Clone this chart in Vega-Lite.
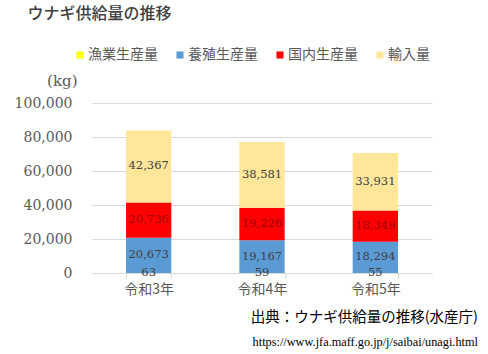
{
  "$schema": "https://vega.github.io/schema/vega-lite/v6.json",
  "width": 340,
  "height": 170,
  "autosize": {"type": "none"},
  "padding": {"left": 92, "top": 103, "right": 56, "bottom": 81},
  "background": "white",
  "title": {
    "text": "出典：ウナギ供給量の推移(水産庁)",
    "subtitle": "https://www.jfa.maff.go.jp/j/saibai/unagi.html",
    "orient": "bottom",
    "anchor": "end",
    "frame": "group",
    "dx": 46,
    "offset": 15,
    "font": "Noto Sans CJK JP",
    "fontSize": 14.5,
    "fontWeight": "normal",
    "color": "#000000",
    "subtitleFont": "Liberation Serif",
    "subtitleFontSize": 12.3,
    "subtitleColor": "#000000",
    "subtitlePadding": 10
  },
  "data": {
    "values": [
      {"年": "令和3年", "系列": "漁業生産量", "順": 1, "量": 63},
      {"年": "令和3年", "系列": "養殖生産量", "順": 2, "量": 20673},
      {"年": "令和3年", "系列": "国内生産量", "順": 3, "量": 20736},
      {"年": "令和3年", "系列": "輸入量", "順": 4, "量": 42367},
      {"年": "令和4年", "系列": "漁業生産量", "順": 1, "量": 59},
      {"年": "令和4年", "系列": "養殖生産量", "順": 2, "量": 19167},
      {"年": "令和4年", "系列": "国内生産量", "順": 3, "量": 19226},
      {"年": "令和4年", "系列": "輸入量", "順": 4, "量": 38581},
      {"年": "令和5年", "系列": "漁業生産量", "順": 1, "量": 55},
      {"年": "令和5年", "系列": "養殖生産量", "順": 2, "量": 18294},
      {"年": "令和5年", "系列": "国内生産量", "順": 3, "量": 18349},
      {"年": "令和5年", "系列": "輸入量", "順": 4, "量": 33931}
    ]
  },
  "encoding": {
    "x": {
      "field": "年",
      "type": "nominal",
      "scale": {"paddingInner": 0.6, "paddingOuter": 0.3},
      "axis": {
        "labelAngle": 0,
        "title": "ウナギ供給量の推移",
        "titleX": -65,
        "titleY": -260,
        "titleAlign": "left",
        "titleBaseline": "middle",
        "titleFont": "Noto Sans CJK JP",
        "titleFontSize": 16,
        "titleFontWeight": 500,
        "titleColor": "#404040",
        "labelFont": "Noto Sans CJK JP",
        "labelFontSize": 14,
        "labelColor": "#595959",
        "domainColor": "#d9d9d9",
        "tickColor": "#d9d9d9",
        "tickBand": "extent",
        "tickSize": 5,
        "labelPadding": 4
      }
    },
    "order": {"field": "順", "type": "quantitative", "sort": "ascending"}
  },
  "layer": [
    {
      "mark": {"type": "bar"},
      "encoding": {
        "y": {
          "field": "量",
          "type": "quantitative",
          "stack": "zero",
          "scale": {"domain": [0, 100000]},
          "axis": {
            "title": "(kg)",
            "titleAngle": 0,
            "titleX": -15,
            "titleY": -23,
            "titleAlign": "right",
            "titleBaseline": "middle",
            "titleFont": "DejaVu Serif",
            "titleFontSize": 15,
            "titleFontWeight": "normal",
            "titleColor": "#595959",
            "values": [0, 20000, 40000, 60000, 80000, 100000],
            "format": ",.0f",
            "labelFont": "DejaVu Serif",
            "labelFontSize": 14,
            "labelColor": "#595959",
            "labelPadding": 20,
            "domain": false,
            "ticks": false,
            "gridColor": "#d9d9d9"
          }
        },
        "color": {
          "field": "系列",
          "type": "nominal",
          "sort": ["漁業生産量", "養殖生産量", "国内生産量", "輸入量"],
          "scale": {
            "domain": ["漁業生産量", "養殖生産量", "国内生産量", "輸入量"],
            "range": ["#FFFF00", "#5B9BD5", "#FF0000", "#FFE699"]
          },
          "legend": {
            "orient": "none",
            "legendX": -19,
            "legendY": -55,
            "direction": "horizontal",
            "title": null,
            "symbolType": "square",
            "symbolSize": 50,
            "symbolStrokeWidth": 0,
            "labelFont": "Noto Sans CJK JP",
            "labelFontSize": 14,
            "labelColor": "#595959",
            "columnPadding": 15,
            "labelOffset": 1
          }
        }
      }
    },
    {
      "mark": {"type": "text", "font": "DejaVu Serif", "fontSize": 11.5, "baseline": "middle"},
      "encoding": {
        "y": {
          "field": "量",
          "type": "quantitative",
          "stack": "zero",
          "bandPosition": 0.5,
          "scale": {"domain": [0, 100000]},
          "axis": {
            "title": "(kg)",
            "titleAngle": 0,
            "titleX": -15,
            "titleY": -23,
            "titleAlign": "right",
            "titleBaseline": "middle",
            "titleFont": "DejaVu Serif",
            "titleFontSize": 15,
            "titleFontWeight": "normal",
            "titleColor": "#595959",
            "values": [0, 20000, 40000, 60000, 80000, 100000],
            "format": ",.0f",
            "labelFont": "DejaVu Serif",
            "labelFontSize": 14,
            "labelColor": "#595959",
            "labelPadding": 20,
            "domain": false,
            "ticks": false,
            "gridColor": "#d9d9d9"
          }
        },
        "text": {"field": "量", "type": "quantitative", "format": ","},
        "color": {
          "field": "系列",
          "type": "nominal",
          "scale": {
            "domain": ["漁業生産量", "養殖生産量", "国内生産量", "輸入量"],
            "range": ["#404040", "#404040", "#a00000", "#404040"]
          },
          "legend": null
        }
      }
    }
  ],
  "resolve": {"scale": {"color": "independent"}},
  "config": {"view": {"stroke": null}}
}
